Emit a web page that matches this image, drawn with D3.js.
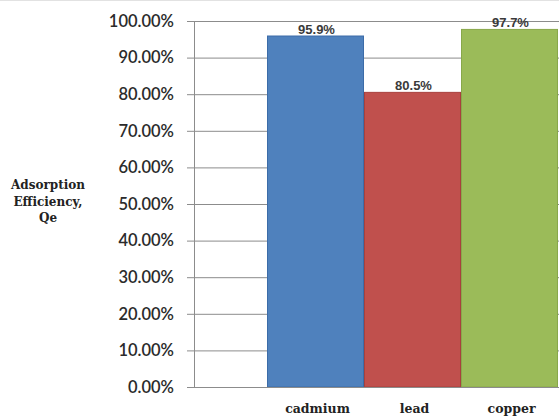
<!DOCTYPE html>
<html>
<head>
<meta charset="utf-8">
<script src="https://cdn.jsdelivr.net/npm/d3@7"></script>
<style>
  html, body { margin: 0; padding: 0; background: #fff; }
  svg { display: block; }
</style>
</head>
<body>
<svg id="chart" width="559" height="417"></svg>
<script>
// Adsorption efficiency per metal
const categories = ["cadmium", "lead", "copper"];
const efficiency = [0.959, 0.805, 0.977];
const valueLabels = ["95.9%", "80.5%", "97.7%"];
const yTicks = [0, 0.1, 0.2, 0.3, 0.4, 0.5, 0.6, 0.7, 0.8, 0.9, 1.0];
const titleLines = ["Adsorption", "Efficiency,", "Qe"];
const barColors = ["#4f81bd", "#c0504d", "#9bbb59"];
const barEdges = ["#3c6ca8", "#a8403d", "#88a84a"];

const svg = d3.select("#chart");

const y = d3.scaleLinear().domain([0, 1]).range([387, 21]);
const x = d3.scaleBand().domain(categories).range([267, 558]).padding(0);

// frame line along the top
svg.append("line")
  .attr("x1", 0).attr("x2", 559).attr("y1", 0.5).attr("y2", 0.5)
  .attr("stroke", "#e2e2e2");

// horizontal gridlines with tick stubs
const yAxis = d3.axisLeft(y)
  .tickValues(yTicks)
  .tickFormat(d3.format(".2%"))
  .tickSize(-(559 - 194))
  .tickPadding(20);

const gy = svg.append("g")
  .attr("transform", "translate(194,0)")
  .call(yAxis);
gy.select(".domain").attr("stroke", "#8c8c8c");
gy.selectAll(".tick line")
  .attr("x1", -7)
  .attr("stroke", "#8c8c8c")
  .attr("stroke-width", 1);
gy.selectAll(".tick text")
  .attr("font-family", "Lato, 'Open Sans', sans-serif")
  .attr("font-weight", 600)
  .attr("font-size", 16.5)
  .attr("fill", "#2b2b2b");

// vertical axis line
svg.append("line")
  .attr("x1", 194.5).attr("x2", 194.5).attr("y1", y(1)).attr("y2", y(0))
  .attr("stroke", "#8c8c8c");

// bars
svg.append("g").selectAll("rect")
  .data(categories)
  .join("rect")
  .attr("x", d => x(d) + 0.5)
  .attr("y", (d, i) => y(efficiency[i]))
  .attr("width", x.bandwidth() - 1)
  .attr("height", (d, i) => y(0) - y(efficiency[i]))
  .attr("fill", (d, i) => barColors[i])
  .attr("stroke", (d, i) => barEdges[i])
  .attr("stroke-width", 1);

// baseline drawn over the bars
svg.append("line")
  .attr("x1", 187).attr("x2", 559).attr("y1", y(0) + 0.5).attr("y2", y(0) + 0.5)
  .attr("stroke", "#8c8c8c");

// value labels
svg.append("g").selectAll("text")
  .data(categories)
  .join("text")
  .attr("x", d => x(d) + x.bandwidth() / 2 + 1)
  .attr("y", (d, i) => y(efficiency[i]) - 2)
  .attr("text-anchor", "middle")
  .attr("font-family", "Arial, 'Liberation Sans', sans-serif")
  .attr("font-weight", "bold")
  .attr("font-size", 13)
  .attr("fill", "#3a3a3a")
  .text((d, i) => valueLabels[i]);

// category labels
svg.append("g").selectAll("text")
  .data(categories)
  .join("text")
  .attr("x", d => x(d) + x.bandwidth() / 2 + 2)
  .attr("y", 413)
  .attr("text-anchor", "middle")
  .attr("font-family", "'DejaVu Serif', serif")
  .attr("font-weight", "bold")
  .attr("font-size", 12.5)
  .attr("fill", "#222")
  .text(d => d);

// axis title
svg.append("text")
  .attr("text-anchor", "middle")
  .attr("font-family", "'DejaVu Serif', serif")
  .attr("font-weight", "bold")
  .attr("font-size", 12)
  .attr("fill", "#222")
  .selectAll("tspan")
  .data(titleLines)
  .join("tspan")
  .attr("x", 48)
  .attr("y", (d, i) => 189 + i * 16.5)
  .text(d => d);
</script>
</body>
</html>
